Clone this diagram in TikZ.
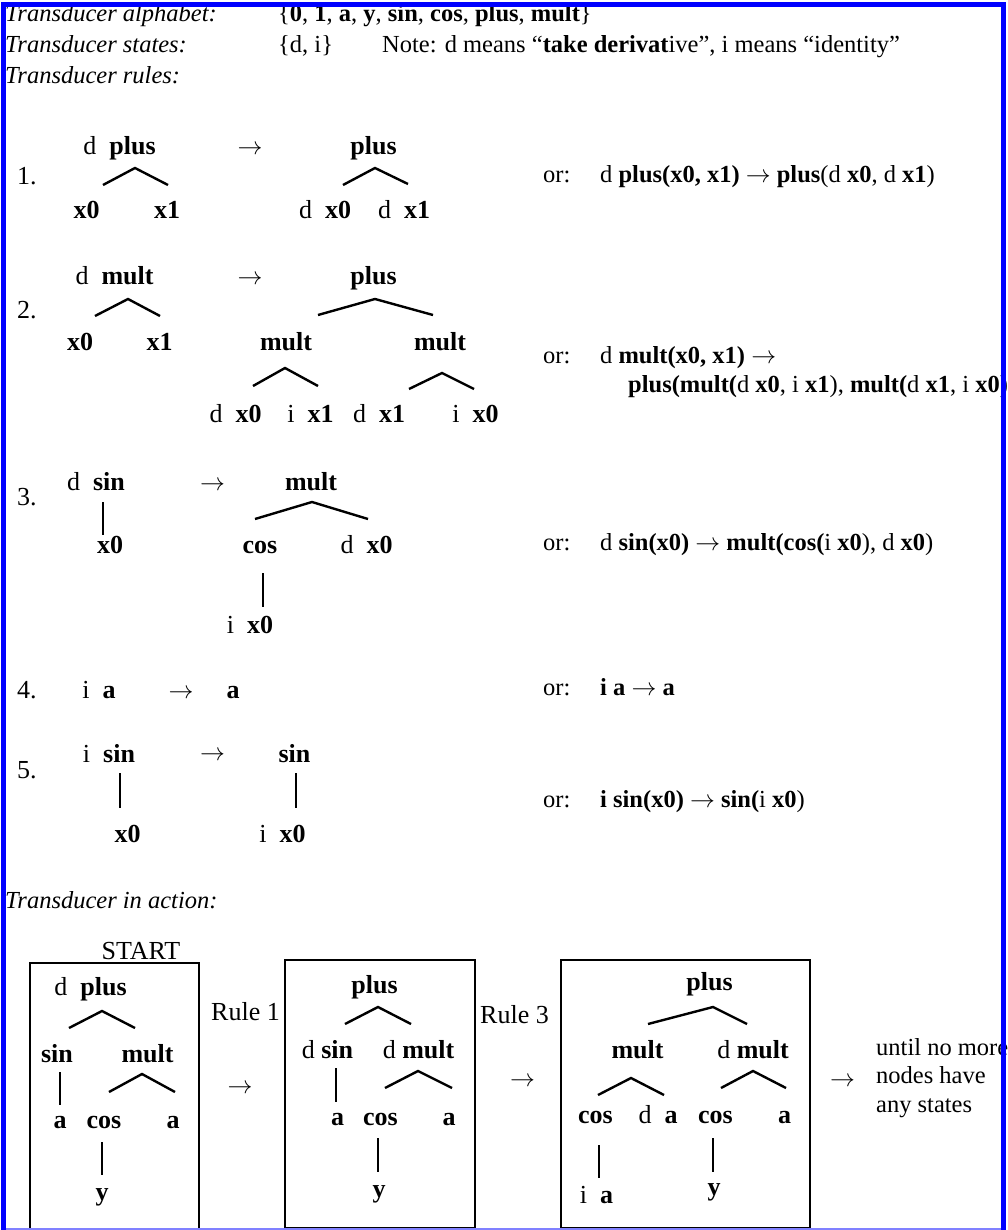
\documentclass[tikz,border=0pt]{standalone}
\usepackage{fontspec}
\setmainfont{Liberation Serif}
\tikzset{
  lab/.style={inner sep=0pt, anchor=base, font=\fontsize{26}{30}\selectfont},
  num/.style={lab, anchor=base west},
  txt/.style={inner sep=0pt, anchor=base west, font=\fontsize{24.5}{29}\selectfont},
  hd/.style={txt, font=\fontsize{24.5}{29}\selectfont\itshape},
  edge/.style={line width=2.4pt},
  tbox/.style={line width=2.6pt}
}
\begin{document}
\begin{tikzpicture}[x=1pt,y=-1pt]
  \useasboundingbox (0,0) rectangle (1008,1230);

  % header
  \node[hd] (halpha) at (5,22) {Transducer alphabet:};
  \node[txt] (alpha) at (278,22) {\{\textbf{0}, \textbf{1}, \textbf{a}, \textbf{y}, \textbf{sin}, \textbf{cos}, \textbf{plus}, \textbf{mult}\}};
  \node[hd] (hstates) at (5,53) {Transducer states:};
  \node[txt] (states) at (278,53) {\{d, i\}};
  \node[txt] (note) at (382,53) {Note: d means “\textbf{take derivat}ive”, i means “identity”};
  \node[hd] (hrules) at (5,84) {Transducer rules:};

  % rule 1
  \node[num] (n1) at (17,185) {1.};
  \node[lab] (r1lp) at (119.5,155) {d\enspace\textbf{plus}};
  \draw[edge] (r1lp.base) ++(15.5,13) +(-32,17) -- +(0,0) -- +(33,17);
  \node[lab] (r1lx0) at (86.5,219) {\textbf{x0}};
  \node[lab] (r1lx1) at (167,219) {\textbf{x1}};
  \node[lab] (r1arr) at (250,155) {$\rightarrow$};
  \node[lab] (r1rp) at (373.5,155) {\textbf{plus}};
  \draw[edge] (r1rp.base) ++(1.5,13) +(-32,17) -- +(0,0) -- +(33,16);
  \node[lab] (r1rx0) at (325,219) {d\enspace\textbf{x0}};
  \node[lab] (r1rx1) at (404,219) {d\enspace\textbf{x1}};
  \node[txt] (r1or) at (543,183) {or:};
  \node[txt] (r1f) at (600,183) {d \textbf{plus(x0, x1)} $\rightarrow$ \textbf{plus}(d \textbf{x0}, d \textbf{x1})};

  % rule 2
  \node[num] (n2) at (17,318) {2.};
  \node[lab] (r2lm) at (114.5,285) {d\enspace\textbf{mult}};
  \draw[edge] (r2lm.base) ++(13.5,14) +(-33,17) -- +(0,0) -- +(32,17);
  \node[lab] (r2lx0) at (80,350) {\textbf{x0}};
  \node[lab] (r2lx1) at (159.5,350) {\textbf{x1}};
  \node[lab] (r2arr) at (250,285) {$\rightarrow$};
  \node[lab] (r2rp) at (373.5,285) {\textbf{plus}};
  \draw[edge] (r2rp.base) ++(1.5,14) +(-57,16) -- +(0,0) -- +(58,16);
  \node[lab] (r2rm1) at (286,350) {\textbf{mult}};
  \draw[edge] (r2rm1.base) ++(-1,18) +(-32,18) -- +(0,0) -- +(33,18);
  \node[lab] (r2rm2) at (440,350) {\textbf{mult}};
  \draw[edge] (r2rm2.base) ++(2,23) +(-33,16) -- +(0,0) -- +(32,16);
  \node[lab] (r2dx0) at (235.5,422) {d\enspace\textbf{x0}};
  \node[lab] (r2ix1) at (310.5,422) {i\enspace\textbf{x1}};
  \node[lab] (r2dx1) at (379,422) {d\enspace\textbf{x1}};
  \node[lab] (r2ix0) at (475.5,422) {i\enspace\textbf{x0}};
  \node[txt] (r2or) at (543,363) {or:};
  \node[txt] (r2f) at (600,363) {d \textbf{mult(x0, x1)} $\rightarrow$};
  \node[txt] (r2g) at (628,392) {\textbf{plus(mult(}d \textbf{x0}, i \textbf{x1}), \textbf{mult(}d \textbf{x1}, i \textbf{x0}))};

  % rule 3
  \node[num] (n3) at (17,505) {3.};
  \node[lab] (r3ls) at (96,490) {d\enspace\textbf{sin}};
  \draw[edge] (r3ls.base) ++(7,12) -- ++(0,33);
  \node[lab] (r3lx0) at (110,553) {\textbf{x0}};
  \node[lab] (r3arr) at (212.5,490) {$\rightarrow$};
  \node[lab] (r3rm) at (311,490) {\textbf{mult}};
  \draw[edge] (r3rm.base) ++(1,12) +(-57,17) -- +(0,0) -- +(56,17);
  \node[lab] (r3rc) at (260,553) {\textbf{cos}};
  \draw[edge] (r3rc.base) ++(3,20) -- ++(0,34);
  \node[lab] (r3rdx) at (366.5,553) {d\enspace\textbf{x0}};
  \node[lab] (r3rix) at (250,633) {i\enspace\textbf{x0}};
  \node[txt] (r3or) at (543,550) {or:};
  \node[txt] (r3f) at (600,550) {d \textbf{sin(x0)} $\rightarrow$ \textbf{mult(cos(}i \textbf{x0}), d \textbf{x0})};

  % rule 4
  \node[num] (n4) at (17,698) {4.};
  \node[lab] (r4l) at (99,698) {i\enspace\textbf{a}};
  \node[lab] (r4arr) at (181,698) {$\rightarrow$};
  \node[lab] (r4r) at (233,698) {\textbf{a}};
  \node[txt] (r4or) at (543,695) {or:};
  \node[txt] (r4f) at (600,695) {\textbf{i a $\rightarrow$ a}};

  % rule 5
  \node[num] (n5) at (17,778) {5.};
  \node[lab] (r5ls) at (109,762) {i\enspace\textbf{sin}};
  \draw[edge] (r5ls.base) ++(11,11) -- ++(0,35);
  \node[lab] (r5lx0) at (127.5,842) {\textbf{x0}};
  \node[lab] (r5arr) at (212.5,760) {$\rightarrow$};
  \node[lab] (r5rs) at (294.5,762) {\textbf{sin}};
  \draw[edge] (r5rs.base) ++(1.5,11) -- ++(0,35);
  \node[lab] (r5rx0) at (282.5,842) {i\enspace\textbf{x0}};
  \node[txt] (r5or) at (543,807) {or:};
  \node[txt] (r5f) at (600,807) {\textbf{i sin(x0)} $\rightarrow$ \textbf{sin(}i \textbf{x0})};

  % transducer in action
  \node[hd] (hact) at (5,908) {Transducer in action:};
  \node[lab] (start) at (141,959) {START};
  \draw[tbox] (30,1236) -- (30,963) -- (199,963) -- (199,1236);
  \draw[tbox] (285,960) rectangle (475,1228);
  \draw[tbox] (561,960) rectangle (810,1228);

  % box 1
  \node[lab] (b1p) at (90.5,995) {d\enspace\textbf{plus}};
  \draw[edge] (b1p.base) ++(11.5,16) +(-33,17) -- +(0,0) -- +(33,17);
  \node[lab] (b1s) at (57,1062) {\textbf{sin}};
  \draw[edge] (b1s.base) ++(3,10) -- ++(0,33);
  \node[lab] (b1m) at (147.5,1062) {\textbf{mult}};
  \draw[edge] (b1m.base) ++(-5.5,12) +(-33,18) -- +(0,0) -- +(33,18);
  \node[lab] (b1a1) at (60,1128) {\textbf{a}};
  \node[lab] (b1c) at (104,1128) {\textbf{cos}};
  \draw[edge] (b1c.base) ++(-2,14) -- ++(0,33);
  \node[lab] (b1a2) at (173,1128) {\textbf{a}};
  \node[lab] (b1y) at (102,1200) {\textbf{y}};

  \node[lab, anchor=base west] (rule1) at (211,1020) {Rule 1};
  \node[lab] (act1) at (240,1093) {$\rightarrow$};

  % box 2
  \node[lab] (b2p) at (374.5,993) {\textbf{plus}};
  \draw[edge] (b2p.base) ++(3.5,14) +(-33,17) -- +(0,0) -- +(33,17);
  \node[lab] (b2s) at (327.5,1058) {d \textbf{sin}};
  \draw[edge] (b2s.base) ++(8.5,10) -- ++(0,34);
  \node[lab] (b2m) at (418.5,1058) {d \textbf{mult}};
  \draw[edge] (b2m.base) ++(-0.5,13) +(-33,17) -- +(0,0) -- +(34,17);
  \node[lab] (b2a1) at (337.5,1125) {\textbf{a}};
  \node[lab] (b2c) at (380.5,1125) {\textbf{cos}};
  \draw[edge] (b2c.base) ++(-2.5,13) -- ++(0,34);
  \node[lab] (b2a2) at (449,1125) {\textbf{a}};
  \node[lab] (b2y) at (379,1197) {\textbf{y}};

  \node[lab, anchor=base west] (rule3) at (480,1023) {Rule 3};
  \node[lab] (act2) at (522.5,1086) {$\rightarrow$};

  % box 3
  \node[lab] (b3p) at (709.5,990) {\textbf{plus}};
  \draw[edge] (b3p.base) ++(3.5,17) +(-65,17) -- +(0,0) -- +(34,17);
  \node[lab] (b3m1) at (637.5,1058) {\textbf{mult}};
  \draw[edge] (b3m1.base) ++(-6.5,20) +(-33,17) -- +(0,0) -- +(33,17);
  \node[lab] (b3m2) at (753,1058) {d \textbf{mult}};
  \draw[edge] (b3m2.base) ++(0,13) +(-32,17) -- +(0,0) -- +(33,17);
  \node[lab] (b3c1) at (595.5,1123) {\textbf{cos}};
  \draw[edge] (b3c1.base) ++(3.5,22) -- ++(0,33);
  \node[lab] (b3da) at (658,1123) {d\enspace\textbf{a}};
  \node[lab] (b3c2) at (715.5,1123) {\textbf{cos}};
  \draw[edge] (b3c2.base) ++(-2.5,15) -- ++(0,34);
  \node[lab] (b3a) at (784.5,1123) {\textbf{a}};
  \node[lab] (b3ia) at (596.5,1203) {i\enspace\textbf{a}};
  \node[lab] (b3y) at (714,1195) {\textbf{y}};

  \node[lab] (act3) at (842.5,1086) {$\rightarrow$};
  \node[txt] (until1) at (876,1055) {until no more};
  \node[txt] (until2) at (876,1083) {nodes have};
  \node[txt] (until3) at (876,1112) {any states};

  % frame
  \draw[blue!50, line width=1.5pt] (3.5,1229) -- (1003.5,1229);
  \draw[blue, line width=5pt] (3.5,1236) -- (3.5,5) -- (1003.5,5) -- (1003.5,1236);
\end{tikzpicture}
\end{document}
